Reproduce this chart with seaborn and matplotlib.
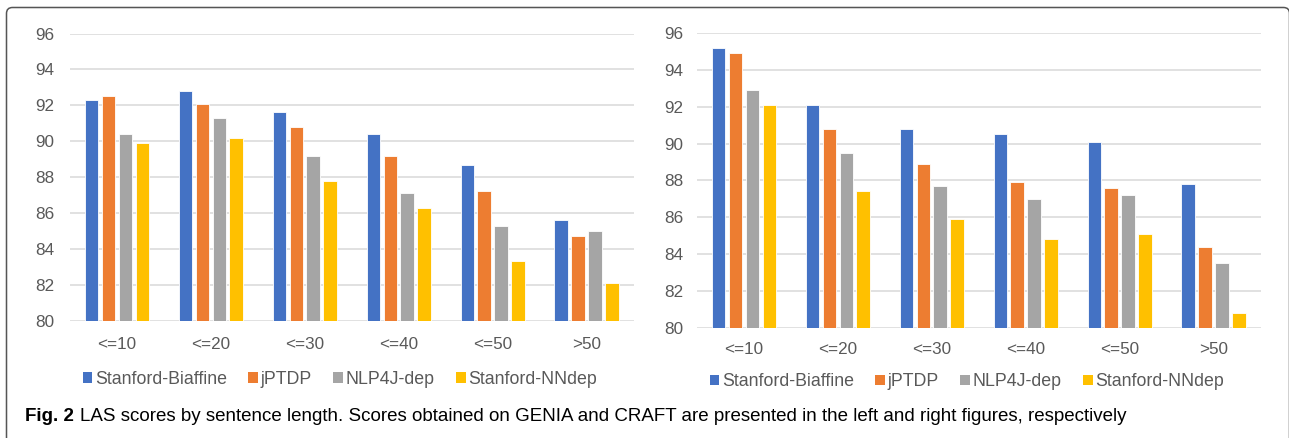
import numpy as np
import pandas as pd
import matplotlib
matplotlib.use("Agg")
import matplotlib.pyplot as plt
import seaborn as sns
from matplotlib.patches import Patch, FancyBboxPatch
from matplotlib.transforms import IdentityTransform

# Categories
lengths = ["<=10", "<=20", "<=30", "<=40", "<=50", ">50"]
parsers = ["Stanford-Biaffine", "jPTDP", "NLP4J-dep", "Stanford-NNdep"]

# GENIA (left)
genia_biaffine = [92.3, 92.8, 91.6, 90.4, 88.7, 85.6]
genia_jptdp = [92.5, 92.1, 90.8, 89.2, 87.2, 84.7]
genia_nlp4j = [90.4, 91.3, 89.2, 87.1, 85.3, 85.0]
genia_nndep = [89.9, 90.2, 87.8, 86.3, 83.3, 82.1]

# CRAFT (right)
craft_biaffine = [95.2, 92.1, 90.8, 90.5, 90.1, 87.8]
craft_jptdp = [94.9, 90.8, 88.9, 87.9, 87.6, 84.4]
craft_nlp4j = [92.9, 89.5, 87.7, 87.0, 87.2, 83.5]
craft_nndep = [92.1, 87.4, 85.9, 84.8, 85.1, 80.8]

yticks = [80, 82, 84, 86, 88, 90, 92, 94, 96]
colors = ["#4472C4", "#ED7D31", "#A5A5A5", "#FFC000"]
text_color = "#595959"
caption_bold = "Fig. 2"
caption_text = ("LAS scores by sentence length. Scores obtained on GENIA and CRAFT "
                "are presented in the left and right figures, respectively")


def to_long(series):
    rows = []
    for parser, vals in zip(parsers, series):
        for length, v in zip(lengths, vals):
            rows.append({"Length": length, "Parser": parser, "LAS": v})
    return pd.DataFrame(rows)


genia = to_long([genia_biaffine, genia_jptdp, genia_nlp4j, genia_nndep])
craft = to_long([craft_biaffine, craft_jptdp, craft_nlp4j, craft_nndep])

sns.set_style("white")
plt.rcParams["font.family"] = ["Liberation Sans", "DejaVu Sans"]

fig = plt.figure(figsize=(12.89, 4.38), dpi=100)
ax_l = fig.add_axes([0.0543, 0.2678, 0.4372, 0.6557])
ax_r = fig.add_axes([0.5407, 0.2518, 0.4372, 0.6728])


def draw(ax, df, xpad, ypad, legend_xy):
    sns.barplot(data=df, x="Length", y="LAS", hue="Parser", hue_order=parsers,
                order=lengths, palette=colors, saturation=1, width=0.72, gap=0.2,
                edgecolor="white", linewidth=0.6, errorbar=None,
                legend=False, ax=ax)
    ax.set_ylim(80, 96)
    ax.set_yticks(yticks)
    ax.set_xlim(-0.5, 5.5)
    ax.set_axisbelow(True)
    ax.grid(axis="y", color="#D9D9D9", linewidth=1.1)
    ax.grid(axis="x", visible=False)
    for s in ax.spines.values():
        s.set_visible(False)
    ax.set_xlabel("")
    ax.set_ylabel("")
    ax.tick_params(axis="x", length=0, pad=xpad, labelsize=12.3, labelcolor=text_color)
    ax.tick_params(axis="y", length=0, pad=ypad, labelsize=12.3, labelcolor=text_color)
    handles = [Patch(facecolor=c, edgecolor="none") for c in colors]
    fig.legend(handles, parsers, loc="center", bbox_to_anchor=legend_xy,
               ncol=4, frameon=False, fontsize=12.8, labelcolor=text_color,
               handlelength=0.55, handleheight=0.55, handletextpad=0.15,
               columnspacing=1.2)


draw(ax_l, genia, 12, 11, (340 / 1289, 1 - 379 / 438))
draw(ax_r, craft, 10, 10, (967 / 1289, 1 - 381.7 / 438))

# Caption
t1 = fig.text(25 / 1289, 1 - 416.7 / 438, caption_bold, fontsize=13.5,
              fontweight="bold", color="black", va="center", ha="left")
fig.canvas.draw()
bb = t1.get_window_extent()
fig.text((bb.x1 + 6) / 1289, 1 - 416.7 / 438, caption_text, fontsize=13.5,
         color="black", va="center", ha="left")

# Outer frame
frame = FancyBboxPatch((6.5, -20), 1283, 438 - 7.5 + 20,
                       boxstyle="round,pad=0,rounding_size=6",
                       facecolor="none", edgecolor="#555555", linewidth=1.1,
                       transform=IdentityTransform())
fig.patches.append(frame)

plt.savefig("out.png", dpi=100)
